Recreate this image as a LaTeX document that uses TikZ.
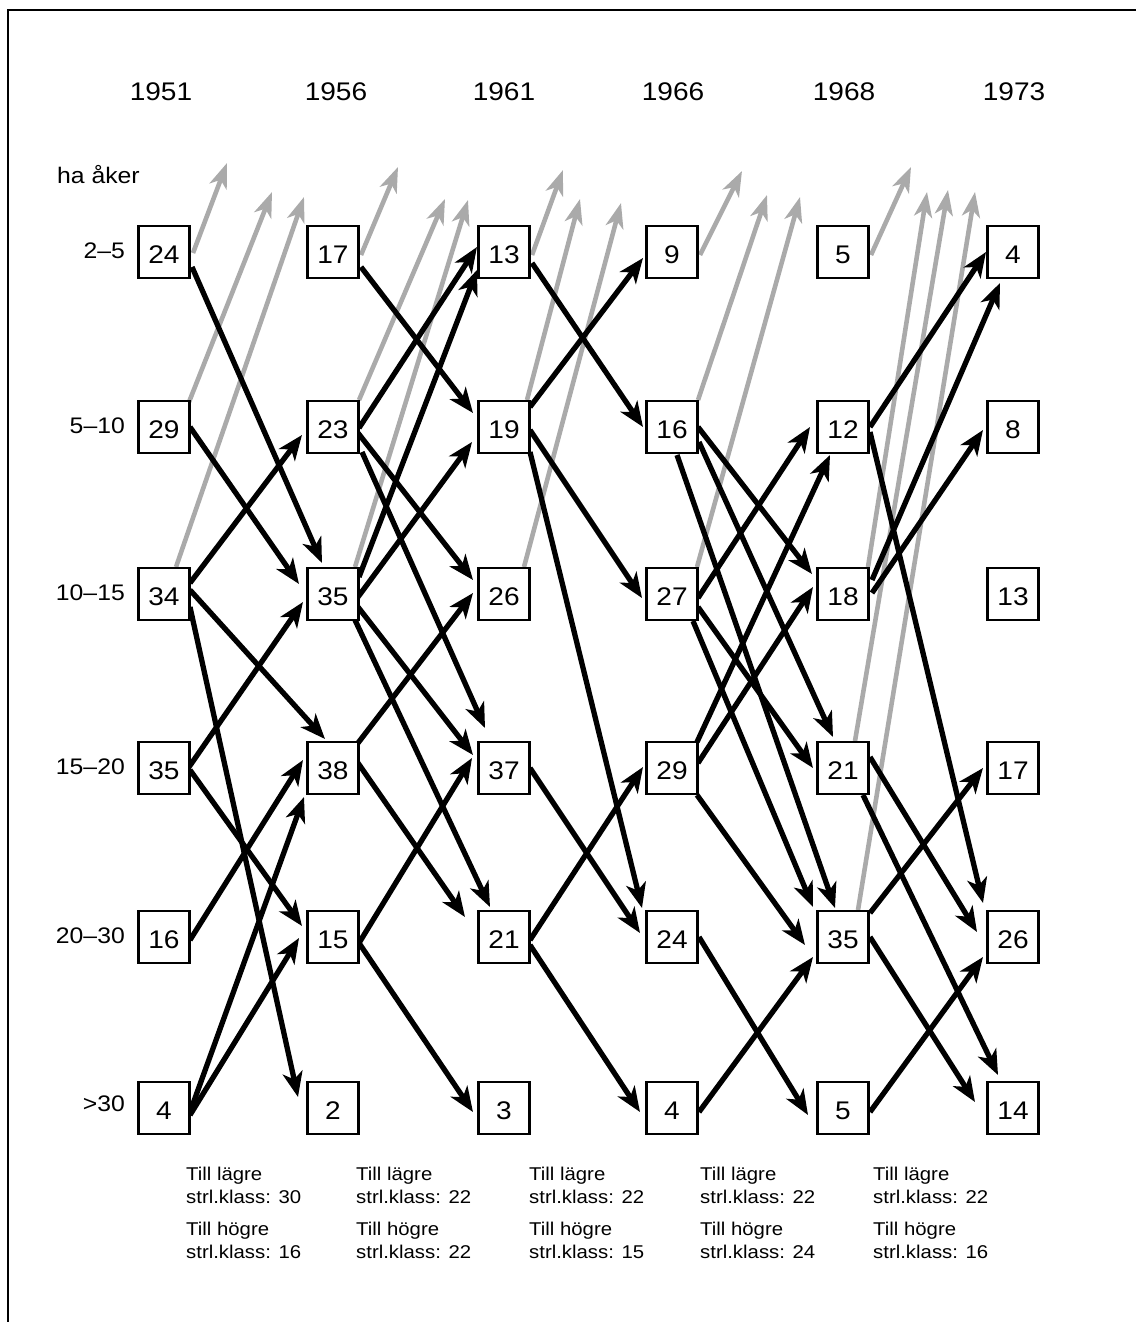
\documentclass[tikz,border=0pt]{standalone}
\usepackage{fontspec}
\setmainfont{Liberation Sans}[FakeStretch=1.1]
\usetikzlibrary{arrows.meta,calc,backgrounds}
\definecolor{lgray}{RGB}{170,170,170}
\tikzset{
 box/.style={draw, line width=2.6pt, fill=white, minimum width=51pt, minimum height=52pt, inner sep=0pt, text height=23pt, text depth=0pt, font=\fontsize{25.5}{30}\selectfont},
 blkarrow/.style={line width=5.3pt, -{Stealth[length=25pt,width=20pt,inset=7pt]}},
 gryarrow/.style={lgray, line width=4.6pt, -{Stealth[length=25pt,width=18pt,inset=7pt]}},
 year/.style={font=\fontsize{25.5}{30}\selectfont, anchor=base, inner sep=0pt},
 rowlab/.style={font=\fontsize{22.5}{26}\selectfont, anchor=east, inner sep=0pt},
 note/.style={font=\fontsize{18.5}{22}\selectfont, anchor=base west, inner sep=0pt},
 frame/.style={line width=2.6pt}
}
\newcommand\blk[6]{\draw[blkarrow] ($(#1)+(#2,#3)$) -- ($(#4)+(#5,#6)$);}
\newcommand\gry[5]{\draw[gryarrow] ($(#1)+(#2,#3)$) -- ($(#1)+(#4,#5)$);}
\begin{document}
\begin{tikzpicture}[x=1pt,y=-1pt]
\useasboundingbox (0,0) rectangle (1135,1322);
\coordinate (fr) at (1140,10);
\coordinate (fc) at (8,10);
\coordinate (fb) at (8,1330);
\draw[frame] (fr) -- (fc) -- (fb);

% years
\node[year] (y0) at (161,100) {1951};
\node[year] (y1) at (336,100) {1956};
\node[year] (y2) at (504,100) {1961};
\node[year] (y3) at (673,100) {1966};
\node[year] (y4) at (844,100) {1968};
\node[year] (y5) at (1014,100) {1973};

\node[font=\fontsize{22.5}{26}\selectfont, anchor=base west, inner sep=0pt] (ha) at (57,183) {ha åker};

% row labels
\node[rowlab] (l0) at (125,251) {2–5};
\node[rowlab] (l1) at (125,426) {5–10};
\node[rowlab] (l2) at (125,593) {10–15};
\node[rowlab] (l3) at (125,767) {15–20};
\node[rowlab] (l4) at (125,936) {20–30};
\node[rowlab] (l5) at (125,1104) {>30};

% boxes
\node[box] (b00) at (164,252) {24};
\node[box] (b01) at (164,427) {29};
\node[box] (b02) at (164,594) {34};
\node[box] (b03) at (164,768) {35};
\node[box] (b04) at (164,937) {16};
\node[box] (b05) at (164,1108) {4};
\node[box] (b10) at (333,252) {17};
\node[box] (b11) at (333,427) {23};
\node[box] (b12) at (333,594) {35};
\node[box] (b13) at (333,768) {38};
\node[box] (b14) at (333,937) {15};
\node[box] (b15) at (333,1108) {2};
\node[box] (b20) at (504,252) {13};
\node[box] (b21) at (504,427) {19};
\node[box] (b22) at (504,594) {26};
\node[box] (b23) at (504,768) {37};
\node[box] (b24) at (504,937) {21};
\node[box] (b25) at (504,1108) {3};
\node[box] (b30) at (672,252) {9};
\node[box] (b31) at (672,427) {16};
\node[box] (b32) at (672,594) {27};
\node[box] (b33) at (672,768) {29};
\node[box] (b34) at (672,937) {24};
\node[box] (b35) at (672,1108) {4};
\node[box] (b40) at (843,252) {5};
\node[box] (b41) at (843,427) {12};
\node[box] (b42) at (843,594) {18};
\node[box] (b43) at (843,768) {21};
\node[box] (b44) at (843,937) {35};
\node[box] (b45) at (843,1108) {5};
\node[box] (b50) at (1013,252) {4};
\node[box] (b51) at (1013,427) {8};
\node[box] (b52) at (1013,594) {13};
\node[box] (b53) at (1013,768) {17};
\node[box] (b54) at (1013,937) {26};
\node[box] (b55) at (1013,1108) {14};

\begin{scope}[on background layer]
% gray arrows
\gry{b00}{29}{1}{63}{-89}
\gry{b01}{25}{-25}{108}{-235}
\gry{b02}{12}{-27}{140}{-397}
\gry{b10}{28}{3}{65}{-85}
\gry{b11}{26}{-27}{112}{-228}
\gry{b12}{22}{-27}{135}{-394}
\gry{b20}{28}{3}{59}{-82}
\gry{b21}{23}{-27}{76}{-228}
\gry{b22}{20}{-27}{117}{-391}
\gry{b30}{28}{3}{70}{-81}
\gry{b31}{26}{-27}{95}{-232}
\gry{b32}{25}{-27}{128}{-397}
\gry{b40}{28}{3}{68}{-85}
\gry{b42}{25}{-27}{84}{-402}
\gry{b43}{12}{-27}{105}{-578}
\gry{b44}{15}{-27}{132}{-745}
% black arrows 1951-1956
\blk{b00}{28}{15}{b12}{-11}{-31}
\blk{b01}{26}{0}{b12}{-34}{-10}
\blk{b02}{26}{-11}{b11}{-31}{8}
\blk{b02}{26}{-4}{b13}{-8}{-29}
\blk{b02}{26}{13}{b15}{-35}{-11}
\blk{b03}{25}{-1}{b12}{-30}{8}
\blk{b03}{26}{2}{b14}{-31}{-11}
\blk{b04}{26}{3}{b13}{-30}{-8}
\blk{b05}{26}{4}{b13}{-29}{29}
\blk{b05}{26}{7}{b14}{-34}{1}
% 1956-1961
\blk{b10}{28}{15}{b21}{-31}{-14}
\blk{b11}{26}{1}{b20}{-27}{-5}
\blk{b12}{26}{-17}{b20}{-27}{18}
\blk{b12}{25}{3}{b21}{-32}{15}
\blk{b11}{25}{6}{b22}{-31}{-14}
\blk{b11}{29}{25}{b23}{-19}{-40}
\blk{b12}{25}{13}{b23}{-31}{-13}
\blk{b12}{22}{26}{b24}{-14}{-30}
\blk{b13}{25}{-25}{b22}{-31}{-1}
\blk{b13}{25}{-5}{b24}{-39}{-20}
\blk{b14}{26}{6}{b23}{-32}{-10}
\blk{b14}{26}{6}{b25}{-31}{4}
% 1961-1966
\blk{b20}{28}{11}{b31}{-29}{0}
\blk{b21}{26}{-20}{b30}{-29}{6}
\blk{b21}{26}{3}{b32}{-30}{4}
\blk{b21}{26}{25}{b34}{-30}{-29}
\blk{b23}{26}{0}{b34}{-32}{-4}
\blk{b24}{26}{3}{b33}{-29}{-1}
\blk{b24}{26}{8}{b35}{-32}{4}
% 1966-1968
\blk{b31}{26}{0}{b42}{-31}{-20}
\blk{b31}{27}{15}{b43}{-10}{-31}
\blk{b31}{5}{28}{b44}{-8}{-29}
\blk{b32}{26}{4}{b41}{-33}{0}
\blk{b32}{26}{13}{b43}{-30}{0}
\blk{b32}{21}{27}{b44}{-30}{-30}
\blk{b33}{25}{-26}{b41}{-13}{28}
\blk{b33}{26}{-5}{b42}{-30}{-7}
\blk{b33}{25}{27}{b44}{-38}{8}
\blk{b34}{27}{0}{b45}{-35}{7}
\blk{b35}{27}{4}{b44}{-30}{20}
% 1968-1973
\blk{b41}{27}{0}{b50}{-27}{0}
\blk{b41}{27}{5}{b54}{-30}{-34}
\blk{b42}{29}{-14}{b50}{-13}{31}
\blk{b42}{29}{-1}{b51}{-30}{3}
\blk{b43}{27}{-11}{b54}{-36}{-5}
\blk{b43}{20}{27}{b55}{-15}{-33}
\blk{b44}{27}{-24}{b53}{-30}{0}
\blk{b44}{27}{0}{b55}{-38}{-6}
\blk{b45}{27}{4}{b54}{-30}{20}
\end{scope}

% notes
\foreach \i/\x/\a/\b in {1/186/30/16, 2/356/22/22, 3/529/22/15, 4/700/22/24, 5/873/22/16} {
  \node[note] (n\i a) at (\x,1180) {Till lägre};
  \node[note] (n\i b) at (\x,1203) {strl.klass: \a};
  \node[note] (n\i c) at (\x,1235) {Till högre};
  \node[note] (n\i d) at (\x,1258) {strl.klass: \b};
}
\end{tikzpicture}
\end{document}
